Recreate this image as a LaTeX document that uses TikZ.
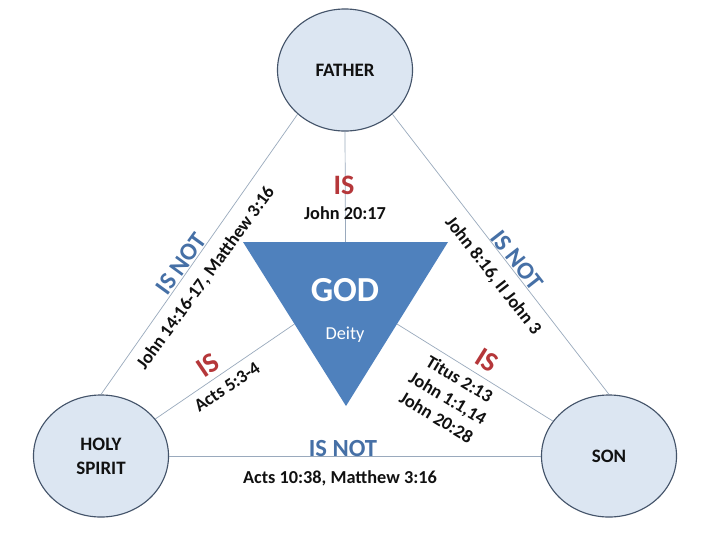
\documentclass[tikz,border=0pt]{standalone}
\usepackage{fontspec}
\setmainfont{Carlito}
\usepackage{tikz}
\usepackage{xcolor}
\usetikzlibrary{positioning,shapes,calc}
\definecolor{paper}{HTML}{FFFFFF}
\definecolor{ink}{HTML}{111111}
\definecolor{rimgray}{HTML}{44546A}
\definecolor{persfill}{HTML}{DCE6F2}
\definecolor{godblue}{HTML}{4F81BD}
\definecolor{isred}{HTML}{B5373A}
\definecolor{notblue}{HTML}{4670A6}
\definecolor{linkgray}{HTML}{9AAABD}
\tikzset{
  personbox/.style={ellipse,draw=rimgray,fill=persfill,line width=0.8pt,
                    minimum width=3.375cm,minimum height=3.05cm,
                    align=center,font=\fontsize{13.5}{16}\selectfont\bfseries,
                    text=ink,inner sep=0pt},
  islabel/.style={font=\fontsize{20}{22}\selectfont\bfseries,text=isred,inner sep=0pt},
  isnotlabel/.style={font=\fontsize{17.5}{19}\selectfont\bfseries,text=notblue,inner sep=0pt},
  reflabel/.style={font=\fontsize{13}{15}\selectfont\bfseries,text=ink,inner sep=0pt},
  linkline/.style={draw=linkgray,line width=0.5pt}
}

\begin{document}
\begin{tikzpicture}[x=0.025cm,y=-0.025cm]
      \useasboundingbox[fill=paper] (0,0) rectangle (720,540);

      % the three persons
      \node[personbox] (father) at (345,70) {FATHER};
      \node[personbox] (spirit) at (101,456) {HOLY\\[1pt]SPIRIT};
      \node[personbox] (son) at (609,456) {SON};

      % the godhead triangle
      \coordinate (gl) at (243,242);
      \coordinate (gr) at (448,242);
      \coordinate (gb) at (346,406);
      \coordinate (gtop) at ($(gl)!0.5!(gr)$);
      \coordinate (gleft) at ($(gl)!0.5!(gb)$);
      \coordinate (gright) at ($(gr)!0.5!(gb)$);

      % connectors
      \draw[linkline] (father.south) -- (gtop);
      \draw[linkline] (father.223) -- (spirit.north);
      \draw[linkline] (father.317) -- (son.north);
      \draw[linkline] (spirit.east) -- (son.west);
      \draw[linkline] (gleft) -- (spirit);
      \draw[linkline] (gright) -- (son);

      \fill[godblue] (gl) -- (gr) -- (gb) -- cycle;
      \node[font=\fontsize{25}{27}\selectfont\bfseries,text=white] (god) at (345,290) {GOD};
      \node[font=\fontsize{13}{15}\selectfont,text=white] (deity) at (345,335) {Deity};

      % father -- god
      \node[islabel] (istop) at (344,185) {IS};
      \node[reflabel] (reftop) at (345,213) {John 20:17};

      % father -- spirit
      \node[isnotlabel,rotate=54] (notleft) at (181,264) {IS NOT};
      \node[reflabel,rotate=54] (refleft) at (206,278) {John 14:16-17, Matthew 3:16};

      % father -- son
      \node[isnotlabel,rotate=-52] (notright) at (517,260) {IS NOT};
      \node[reflabel,rotate=-52] (refright) at (493,276) {John 8:16, II John 3};

      % spirit -- god
      \node[islabel,rotate=34] (isleft) at (208,365) {IS};
      \node[reflabel,rotate=34] (refspirit) at (227,387) {Acts 5:3-4};

      % son -- god
      \node[islabel,rotate=-32] (isright) at (487,360) {IS};
      \node[reflabel,rotate=-31,align=center,
            font=\fontsize{13}{16}\selectfont\bfseries] (refson) at (448,398)
        {Titus 2:13\\John 1:1,14\\John 20:28};

      % spirit -- son
      \node[isnotlabel] (notbottom) at (343,449) {IS NOT};
      \node[reflabel] (refbottom) at (340,478) {Acts 10:38, Matthew 3:16};
    \end{tikzpicture}
\end{document}
